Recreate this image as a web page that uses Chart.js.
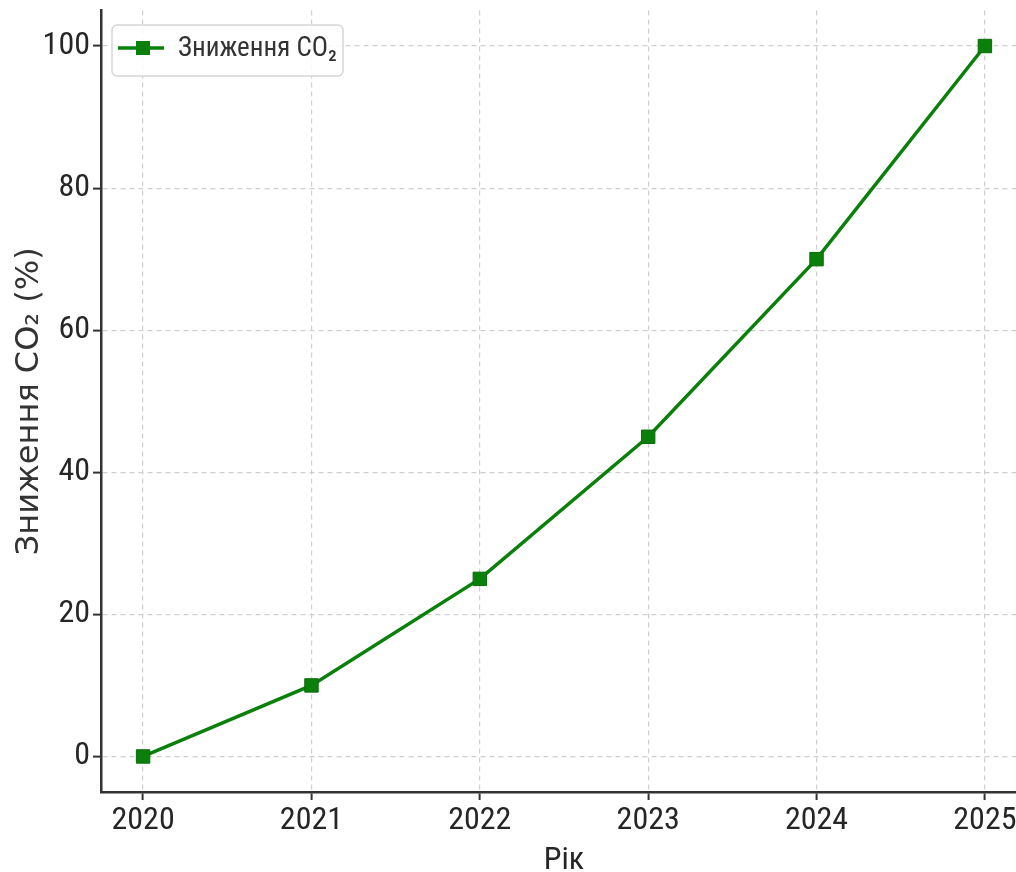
<!DOCTYPE html>
<html>
<head>
<meta charset="utf-8">
<script src="https://cdn.jsdelivr.net/npm/chart.js@4"></script>
<style>
html,body{margin:0;padding:0;background:#fff;overflow:hidden;}
#wrap{width:1040px;height:890px;}
</style>
</head>
<body>
<div id="wrap"><canvas id="c" width="1040" height="890"></canvas></div>
<script>
const years = [2020, 2021, 2022, 2023, 2024, 2025];
const reduction = [0, 10, 25, 45, 70, 100];
const yTicks = [0, 20, 40, 60, 80, 100];
const seriesLabel = 'Зниження CO₂';
const xTitle = 'Рік';
const yTitle = 'Зниження CO₂ (%)';

const narrow = '"Roboto Condensed", "Liberation Sans Narrow", "DejaVu Sans Condensed", sans-serif';
const green = '#0a800a';

const legendPlugin = {
  id: 'mplLegend',
  afterDraw(chart) {
    const ctx = chart.ctx;
    const ds = chart.data.datasets[0];
    ctx.save();
    const x = 112, y = 25, w = 231, h = 51, r = 5;
    ctx.beginPath();
    ctx.roundRect(x, y, w, h, r);
    ctx.fillStyle = 'rgba(255,255,255,0.85)';
    ctx.fill();
    ctx.strokeStyle = '#d6d6d6';
    ctx.lineWidth = 1.5;
    ctx.stroke();
    const cy = 48;
    ctx.beginPath();
    ctx.moveTo(118, cy);
    ctx.lineTo(164, cy);
    ctx.strokeStyle = green;
    ctx.lineWidth = 3.5;
    ctx.stroke();
    ctx.fillStyle = green;
    ctx.fillRect(136, cy - 7, 14, 14);
    ctx.fillStyle = '#333';
    ctx.font = '27px ' + narrow;
    ctx.textBaseline = 'middle';
    ctx.textAlign = 'left';
    ctx.fillText(ds.label, 178, cy + 1);
    ctx.restore();
  }
};

new Chart(document.getElementById('c'), {
  type: 'line',
  data: {
    datasets: [{
      label: seriesLabel,
      data: years.map((yr, i) => ({x: yr, y: reduction[i]})),
      borderColor: green,
      backgroundColor: green,
      borderWidth: 3.5,
      pointStyle: 'rect',
      pointRadius: 9.5,
      pointBackgroundColor: green,
      pointBorderColor: '#0b6b0b',
      pointBorderWidth: 1,
      tension: 0,
      clip: false
    }]
  },
  options: {
    responsive: false,
    animation: false,
    devicePixelRatio: 1,
    layout: {padding: {left: 0, right: 13, top: 10, bottom: 0}},
    plugins: {legend: {display: false}, tooltip: {enabled: false}},
    scales: {
      x: {
        type: 'linear',
        min: 2019.75,
        max: 2025.25,
        afterBuildTicks(scale) { scale.ticks = years.map(v => ({value: v})); },
        afterFit(scale) { scale.height = 98; scale.paddingLeft = 0; scale.paddingRight = 0; },
        ticks: {
          callback: v => String(v),
          font: {family: narrow, size: 32},
          color: '#262626',
          padding: 2,
          maxRotation: 0,
          autoSkip: false
        },
        grid: {
          color: '#cfcfcf',
          lineWidth: 1.2,
          tickLength: 8,
          tickColor: '#333',
          tickWidth: 2,
          tickBorderDash: []
        },
        border: {color: '#333', width: 2.5, dash: [5, 4]},
        title: {
          display: true,
          text: xTitle,
          font: {family: narrow, size: 32},
          color: '#262626',
          padding: {top: 4, bottom: 10}
        }
      },
      y: {
        type: 'linear',
        min: -5,
        max: 105,
        afterBuildTicks(scale) { scale.ticks = yTicks.map(v => ({value: v})); },
        afterFit(scale) { scale.width = 101; scale.paddingTop = 0; scale.paddingBottom = 0; },
        ticks: {
          callback: v => String(v),
          font: {family: narrow, size: 32},
          color: '#262626',
          padding: 3,
          includeBounds: false
        },
        grid: {
          color: '#cfcfcf',
          lineWidth: 1.2,
          tickLength: 8,
          tickColor: '#333',
          tickWidth: 2,
          tickBorderDash: []
        },
        border: {color: '#333', width: 2.5, dash: [5, 4]},
        title: {
          display: true,
          text: yTitle,
          font: {family: '"DejaVu Sans", sans-serif', size: 32},
          color: '#333',
          padding: {top: 10, bottom: 0}
        }
      }
    }
  },
  plugins: [legendPlugin]
});
</script>
</body>
</html>
